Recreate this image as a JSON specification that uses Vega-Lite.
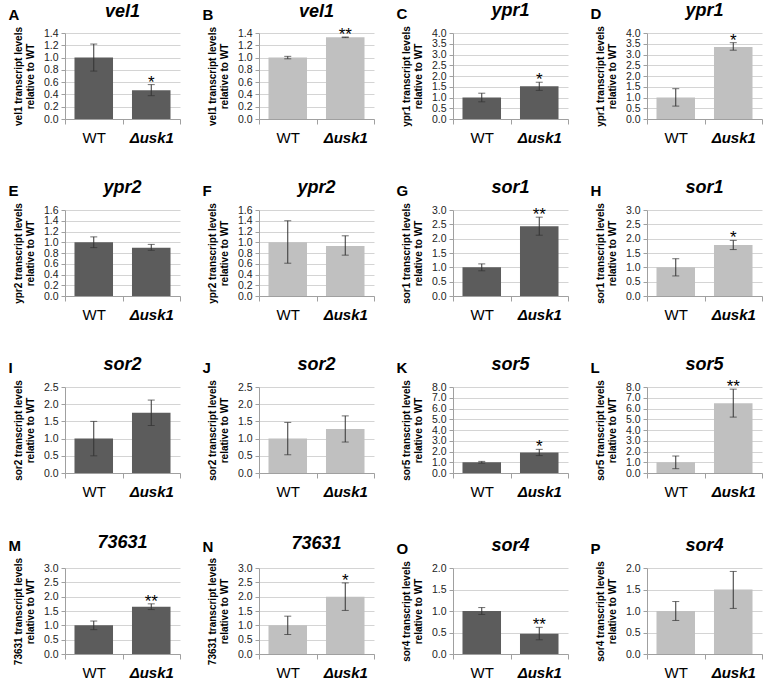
{
"$schema": "https://vega.github.io/schema/vega-lite/v6.json",
"padding": {"left": 8, "top": 2, "right": 4, "bottom": 0},
"background": "white",
"data": {"values": [
{"panel":"A","strain":"WT","value":1.00,"lo":0.78,"hi":1.22,"sig":""},
{"panel":"A","strain":"Δusk1","value":0.47,"lo":0.38,"hi":0.56,"sig":"*"},
{"panel":"B","strain":"WT","value":1.00,"lo":0.98,"hi":1.02,"sig":""},
{"panel":"B","strain":"Δusk1","value":1.33,"lo":1.325,"hi":1.335,"sig":"**"},
{"panel":"C","strain":"WT","value":1.00,"lo":0.80,"hi":1.20,"sig":""},
{"panel":"C","strain":"Δusk1","value":1.52,"lo":1.33,"hi":1.71,"sig":"*"},
{"panel":"D","strain":"WT","value":1.00,"lo":0.60,"hi":1.41,"sig":""},
{"panel":"D","strain":"Δusk1","value":3.35,"lo":3.20,"hi":3.55,"sig":"*"},
{"panel":"E","strain":"WT","value":1.00,"lo":0.90,"hi":1.10,"sig":""},
{"panel":"E","strain":"Δusk1","value":0.90,"lo":0.85,"hi":0.96,"sig":""},
{"panel":"F","strain":"WT","value":1.00,"lo":0.61,"hi":1.40,"sig":""},
{"panel":"F","strain":"Δusk1","value":0.93,"lo":0.76,"hi":1.12,"sig":""},
{"panel":"G","strain":"WT","value":1.00,"lo":0.88,"hi":1.12,"sig":""},
{"panel":"G","strain":"Δusk1","value":2.43,"lo":2.12,"hi":2.75,"sig":"**"},
{"panel":"H","strain":"WT","value":1.00,"lo":0.70,"hi":1.30,"sig":""},
{"panel":"H","strain":"Δusk1","value":1.78,"lo":1.62,"hi":1.94,"sig":"*"},
{"panel":"I","strain":"WT","value":1.00,"lo":0.50,"hi":1.50,"sig":""},
{"panel":"I","strain":"Δusk1","value":1.75,"lo":1.38,"hi":2.12,"sig":""},
{"panel":"J","strain":"WT","value":1.00,"lo":0.53,"hi":1.47,"sig":""},
{"panel":"J","strain":"Δusk1","value":1.28,"lo":0.90,"hi":1.66,"sig":""},
{"panel":"K","strain":"WT","value":1.00,"lo":0.92,"hi":1.08,"sig":""},
{"panel":"K","strain":"Δusk1","value":1.90,"lo":1.62,"hi":2.20,"sig":"*"},
{"panel":"L","strain":"WT","value":1.00,"lo":0.40,"hi":1.58,"sig":""},
{"panel":"L","strain":"Δusk1","value":6.50,"lo":5.20,"hi":7.80,"sig":"**"},
{"panel":"M","strain":"WT","value":1.00,"lo":0.85,"hi":1.15,"sig":""},
{"panel":"M","strain":"Δusk1","value":1.65,"lo":1.55,"hi":1.75,"sig":"**"},
{"panel":"N","strain":"WT","value":1.00,"lo":0.68,"hi":1.32,"sig":""},
{"panel":"N","strain":"Δusk1","value":2.00,"lo":1.52,"hi":2.48,"sig":"*"},
{"panel":"O","strain":"WT","value":1.00,"lo":0.92,"hi":1.08,"sig":""},
{"panel":"O","strain":"Δusk1","value":0.47,"lo":0.33,"hi":0.62,"sig":"**"},
{"panel":"P","strain":"WT","value":1.00,"lo":0.78,"hi":1.22,"sig":""},
{"panel":"P","strain":"Δusk1","value":1.50,"lo":1.06,"hi":1.92,"sig":""}
]},
"columns": 4,
"spacing": {"row": 34, "column": 21},
"concat": [
{"title":{"text":"A","anchor":"start","frame":"bounds","fontSize":15,"fontStyle":"normal","dx":-5,"dy":24},
 "vconcat":[{"title":"vel1","width":115,"height":86,
 "transform":[{"filter":"datum.panel==='A'"}],
 "encoding":{"x":{"field":"strain","type":"nominal","sort":["WT","Δusk1"],"scale":{"paddingInner":0,"paddingOuter":0},"title":null,"axis":{"labelFontStyle":{"condition":{"test":"datum.value==='Δusk1'","value":"italic"},"value":"normal"},"labelFontWeight":{"condition":{"test":"datum.value==='Δusk1'","value":"bold"},"value":"normal"}}}},
 "layer":[
 {"mark":{"type":"bar","color":"#5c5c5c","width":{"band":0.67}},"encoding":{"y":{"field":"value","type":"quantitative","scale":{"domain":[0,1.4],"nice":false},"axis":{"values":[0,0.2,0.4,0.6,0.8,1,1.2,1.4],"format":".1f"},"title":["vel1 transcript  levels","relative  to WT"]}}},
 {"mark":{"type":"errorbar","ticks":{"size":7},"color":"#333"},"encoding":{"y":{"field":"lo","type":"quantitative","scale":{"domain":[0,1.4],"nice":false},"axis":{"values":[0,0.2,0.4,0.6,0.8,1,1.2,1.4],"format":".1f"},"title":["vel1 transcript  levels","relative  to WT"]},"y2":{"field":"hi"}}},
 {"mark":{"type":"text","fontSize":17,"dy":3,"baseline":"alphabetic"},"encoding":{"y":{"field":"hi","type":"quantitative","scale":{"domain":[0,1.4],"nice":false},"axis":{"values":[0,0.2,0.4,0.6,0.8,1,1.2,1.4],"format":".1f"},"title":["vel1 transcript  levels","relative  to WT"]},"text":{"field":"sig"}}}
 ]}]},
{"title":{"text":"B","anchor":"start","frame":"bounds","fontSize":15,"fontStyle":"normal","dx":-5,"dy":24},
 "vconcat":[{"title":"vel1","width":115,"height":86,
 "transform":[{"filter":"datum.panel==='B'"}],
 "encoding":{"x":{"field":"strain","type":"nominal","sort":["WT","Δusk1"],"scale":{"paddingInner":0,"paddingOuter":0},"title":null,"axis":{"labelFontStyle":{"condition":{"test":"datum.value==='Δusk1'","value":"italic"},"value":"normal"},"labelFontWeight":{"condition":{"test":"datum.value==='Δusk1'","value":"bold"},"value":"normal"}}}},
 "layer":[
 {"mark":{"type":"bar","color":"#c0c0c0","width":{"band":0.67}},"encoding":{"y":{"field":"value","type":"quantitative","scale":{"domain":[0,1.4],"nice":false},"axis":{"values":[0,0.2,0.4,0.6,0.8,1,1.2,1.4],"format":".1f"},"title":["vel1 transcript  levels","relative  to WT"]}}},
 {"mark":{"type":"errorbar","ticks":{"size":7},"color":"#333"},"encoding":{"y":{"field":"lo","type":"quantitative","scale":{"domain":[0,1.4],"nice":false},"axis":{"values":[0,0.2,0.4,0.6,0.8,1,1.2,1.4],"format":".1f"},"title":["vel1 transcript  levels","relative  to WT"]},"y2":{"field":"hi"}}},
 {"mark":{"type":"text","fontSize":17,"dy":3,"baseline":"alphabetic"},"encoding":{"y":{"field":"hi","type":"quantitative","scale":{"domain":[0,1.4],"nice":false},"axis":{"values":[0,0.2,0.4,0.6,0.8,1,1.2,1.4],"format":".1f"},"title":["vel1 transcript  levels","relative  to WT"]},"text":{"field":"sig"}}}
 ]}]},
{"title":{"text":"C","anchor":"start","frame":"bounds","fontSize":15,"fontStyle":"normal","dx":-5,"dy":24},
 "vconcat":[{"title":"ypr1","width":115,"height":86,
 "transform":[{"filter":"datum.panel==='C'"}],
 "encoding":{"x":{"field":"strain","type":"nominal","sort":["WT","Δusk1"],"scale":{"paddingInner":0,"paddingOuter":0},"title":null,"axis":{"labelFontStyle":{"condition":{"test":"datum.value==='Δusk1'","value":"italic"},"value":"normal"},"labelFontWeight":{"condition":{"test":"datum.value==='Δusk1'","value":"bold"},"value":"normal"}}}},
 "layer":[
 {"mark":{"type":"bar","color":"#5c5c5c","width":{"band":0.67}},"encoding":{"y":{"field":"value","type":"quantitative","scale":{"domain":[0,4],"nice":false},"axis":{"values":[0,0.5,1,1.5,2,2.5,3,3.5,4],"format":".1f"},"title":["ypr1 transcript  levels","relative  to WT"]}}},
 {"mark":{"type":"errorbar","ticks":{"size":7},"color":"#333"},"encoding":{"y":{"field":"lo","type":"quantitative","scale":{"domain":[0,4],"nice":false},"axis":{"values":[0,0.5,1,1.5,2,2.5,3,3.5,4],"format":".1f"},"title":["ypr1 transcript  levels","relative  to WT"]},"y2":{"field":"hi"}}},
 {"mark":{"type":"text","fontSize":17,"dy":3,"baseline":"alphabetic"},"encoding":{"y":{"field":"hi","type":"quantitative","scale":{"domain":[0,4],"nice":false},"axis":{"values":[0,0.5,1,1.5,2,2.5,3,3.5,4],"format":".1f"},"title":["ypr1 transcript  levels","relative  to WT"]},"text":{"field":"sig"}}}
 ]}]},
{"title":{"text":"D","anchor":"start","frame":"bounds","fontSize":15,"fontStyle":"normal","dx":-5,"dy":24},
 "vconcat":[{"title":"ypr1","width":115,"height":86,
 "transform":[{"filter":"datum.panel==='D'"}],
 "encoding":{"x":{"field":"strain","type":"nominal","sort":["WT","Δusk1"],"scale":{"paddingInner":0,"paddingOuter":0},"title":null,"axis":{"labelFontStyle":{"condition":{"test":"datum.value==='Δusk1'","value":"italic"},"value":"normal"},"labelFontWeight":{"condition":{"test":"datum.value==='Δusk1'","value":"bold"},"value":"normal"}}}},
 "layer":[
 {"mark":{"type":"bar","color":"#c0c0c0","width":{"band":0.67}},"encoding":{"y":{"field":"value","type":"quantitative","scale":{"domain":[0,4],"nice":false},"axis":{"values":[0,0.5,1,1.5,2,2.5,3,3.5,4],"format":".1f"},"title":["ypr1 transcript  levels","relative  to WT"]}}},
 {"mark":{"type":"errorbar","ticks":{"size":7},"color":"#333"},"encoding":{"y":{"field":"lo","type":"quantitative","scale":{"domain":[0,4],"nice":false},"axis":{"values":[0,0.5,1,1.5,2,2.5,3,3.5,4],"format":".1f"},"title":["ypr1 transcript  levels","relative  to WT"]},"y2":{"field":"hi"}}},
 {"mark":{"type":"text","fontSize":17,"dy":3,"baseline":"alphabetic"},"encoding":{"y":{"field":"hi","type":"quantitative","scale":{"domain":[0,4],"nice":false},"axis":{"values":[0,0.5,1,1.5,2,2.5,3,3.5,4],"format":".1f"},"title":["ypr1 transcript  levels","relative  to WT"]},"text":{"field":"sig"}}}
 ]}]},
{"title":{"text":"E","anchor":"start","frame":"bounds","fontSize":15,"fontStyle":"normal","dx":-5,"dy":24},
 "vconcat":[{"title":"ypr2","width":115,"height":86,
 "transform":[{"filter":"datum.panel==='E'"}],
 "encoding":{"x":{"field":"strain","type":"nominal","sort":["WT","Δusk1"],"scale":{"paddingInner":0,"paddingOuter":0},"title":null,"axis":{"labelFontStyle":{"condition":{"test":"datum.value==='Δusk1'","value":"italic"},"value":"normal"},"labelFontWeight":{"condition":{"test":"datum.value==='Δusk1'","value":"bold"},"value":"normal"}}}},
 "layer":[
 {"mark":{"type":"bar","color":"#5c5c5c","width":{"band":0.67}},"encoding":{"y":{"field":"value","type":"quantitative","scale":{"domain":[0,1.6],"nice":false},"axis":{"values":[0,0.2,0.4,0.6,0.8,1,1.2,1.4,1.6],"format":".1f"},"title":["ypr2 transcript  levels","relative  to WT"]}}},
 {"mark":{"type":"errorbar","ticks":{"size":7},"color":"#333"},"encoding":{"y":{"field":"lo","type":"quantitative","scale":{"domain":[0,1.6],"nice":false},"axis":{"values":[0,0.2,0.4,0.6,0.8,1,1.2,1.4,1.6],"format":".1f"},"title":["ypr2 transcript  levels","relative  to WT"]},"y2":{"field":"hi"}}},
 {"mark":{"type":"text","fontSize":17,"dy":3,"baseline":"alphabetic"},"encoding":{"y":{"field":"hi","type":"quantitative","scale":{"domain":[0,1.6],"nice":false},"axis":{"values":[0,0.2,0.4,0.6,0.8,1,1.2,1.4,1.6],"format":".1f"},"title":["ypr2 transcript  levels","relative  to WT"]},"text":{"field":"sig"}}}
 ]}]},
{"title":{"text":"F","anchor":"start","frame":"bounds","fontSize":15,"fontStyle":"normal","dx":-5,"dy":24},
 "vconcat":[{"title":"ypr2","width":115,"height":86,
 "transform":[{"filter":"datum.panel==='F'"}],
 "encoding":{"x":{"field":"strain","type":"nominal","sort":["WT","Δusk1"],"scale":{"paddingInner":0,"paddingOuter":0},"title":null,"axis":{"labelFontStyle":{"condition":{"test":"datum.value==='Δusk1'","value":"italic"},"value":"normal"},"labelFontWeight":{"condition":{"test":"datum.value==='Δusk1'","value":"bold"},"value":"normal"}}}},
 "layer":[
 {"mark":{"type":"bar","color":"#c0c0c0","width":{"band":0.67}},"encoding":{"y":{"field":"value","type":"quantitative","scale":{"domain":[0,1.6],"nice":false},"axis":{"values":[0,0.2,0.4,0.6,0.8,1,1.2,1.4,1.6],"format":".1f"},"title":["ypr2 transcript  levels","relative  to WT"]}}},
 {"mark":{"type":"errorbar","ticks":{"size":7},"color":"#333"},"encoding":{"y":{"field":"lo","type":"quantitative","scale":{"domain":[0,1.6],"nice":false},"axis":{"values":[0,0.2,0.4,0.6,0.8,1,1.2,1.4,1.6],"format":".1f"},"title":["ypr2 transcript  levels","relative  to WT"]},"y2":{"field":"hi"}}},
 {"mark":{"type":"text","fontSize":17,"dy":3,"baseline":"alphabetic"},"encoding":{"y":{"field":"hi","type":"quantitative","scale":{"domain":[0,1.6],"nice":false},"axis":{"values":[0,0.2,0.4,0.6,0.8,1,1.2,1.4,1.6],"format":".1f"},"title":["ypr2 transcript  levels","relative  to WT"]},"text":{"field":"sig"}}}
 ]}]},
{"title":{"text":"G","anchor":"start","frame":"bounds","fontSize":15,"fontStyle":"normal","dx":-5,"dy":24},
 "vconcat":[{"title":"sor1","width":115,"height":86,
 "transform":[{"filter":"datum.panel==='G'"}],
 "encoding":{"x":{"field":"strain","type":"nominal","sort":["WT","Δusk1"],"scale":{"paddingInner":0,"paddingOuter":0},"title":null,"axis":{"labelFontStyle":{"condition":{"test":"datum.value==='Δusk1'","value":"italic"},"value":"normal"},"labelFontWeight":{"condition":{"test":"datum.value==='Δusk1'","value":"bold"},"value":"normal"}}}},
 "layer":[
 {"mark":{"type":"bar","color":"#5c5c5c","width":{"band":0.67}},"encoding":{"y":{"field":"value","type":"quantitative","scale":{"domain":[0,3],"nice":false},"axis":{"values":[0,0.5,1,1.5,2,2.5,3],"format":".1f"},"title":["sor1 transcript  levels","relative  to WT"]}}},
 {"mark":{"type":"errorbar","ticks":{"size":7},"color":"#333"},"encoding":{"y":{"field":"lo","type":"quantitative","scale":{"domain":[0,3],"nice":false},"axis":{"values":[0,0.5,1,1.5,2,2.5,3],"format":".1f"},"title":["sor1 transcript  levels","relative  to WT"]},"y2":{"field":"hi"}}},
 {"mark":{"type":"text","fontSize":17,"dy":3,"baseline":"alphabetic"},"encoding":{"y":{"field":"hi","type":"quantitative","scale":{"domain":[0,3],"nice":false},"axis":{"values":[0,0.5,1,1.5,2,2.5,3],"format":".1f"},"title":["sor1 transcript  levels","relative  to WT"]},"text":{"field":"sig"}}}
 ]}]},
{"title":{"text":"H","anchor":"start","frame":"bounds","fontSize":15,"fontStyle":"normal","dx":-5,"dy":24},
 "vconcat":[{"title":"sor1","width":115,"height":86,
 "transform":[{"filter":"datum.panel==='H'"}],
 "encoding":{"x":{"field":"strain","type":"nominal","sort":["WT","Δusk1"],"scale":{"paddingInner":0,"paddingOuter":0},"title":null,"axis":{"labelFontStyle":{"condition":{"test":"datum.value==='Δusk1'","value":"italic"},"value":"normal"},"labelFontWeight":{"condition":{"test":"datum.value==='Δusk1'","value":"bold"},"value":"normal"}}}},
 "layer":[
 {"mark":{"type":"bar","color":"#c0c0c0","width":{"band":0.67}},"encoding":{"y":{"field":"value","type":"quantitative","scale":{"domain":[0,3],"nice":false},"axis":{"values":[0,0.5,1,1.5,2,2.5,3],"format":".1f"},"title":["sor1 transcript  levels","relative  to WT"]}}},
 {"mark":{"type":"errorbar","ticks":{"size":7},"color":"#333"},"encoding":{"y":{"field":"lo","type":"quantitative","scale":{"domain":[0,3],"nice":false},"axis":{"values":[0,0.5,1,1.5,2,2.5,3],"format":".1f"},"title":["sor1 transcript  levels","relative  to WT"]},"y2":{"field":"hi"}}},
 {"mark":{"type":"text","fontSize":17,"dy":3,"baseline":"alphabetic"},"encoding":{"y":{"field":"hi","type":"quantitative","scale":{"domain":[0,3],"nice":false},"axis":{"values":[0,0.5,1,1.5,2,2.5,3],"format":".1f"},"title":["sor1 transcript  levels","relative  to WT"]},"text":{"field":"sig"}}}
 ]}]},
{"title":{"text":"I","anchor":"start","frame":"bounds","fontSize":15,"fontStyle":"normal","dx":-5,"dy":24},
 "vconcat":[{"title":"sor2","width":115,"height":86,
 "transform":[{"filter":"datum.panel==='I'"}],
 "encoding":{"x":{"field":"strain","type":"nominal","sort":["WT","Δusk1"],"scale":{"paddingInner":0,"paddingOuter":0},"title":null,"axis":{"labelFontStyle":{"condition":{"test":"datum.value==='Δusk1'","value":"italic"},"value":"normal"},"labelFontWeight":{"condition":{"test":"datum.value==='Δusk1'","value":"bold"},"value":"normal"}}}},
 "layer":[
 {"mark":{"type":"bar","color":"#5c5c5c","width":{"band":0.67}},"encoding":{"y":{"field":"value","type":"quantitative","scale":{"domain":[0,2.5],"nice":false},"axis":{"values":[0,0.5,1,1.5,2,2.5],"format":".1f"},"title":["sor2 transcript  levels","relative  to WT"]}}},
 {"mark":{"type":"errorbar","ticks":{"size":7},"color":"#333"},"encoding":{"y":{"field":"lo","type":"quantitative","scale":{"domain":[0,2.5],"nice":false},"axis":{"values":[0,0.5,1,1.5,2,2.5],"format":".1f"},"title":["sor2 transcript  levels","relative  to WT"]},"y2":{"field":"hi"}}},
 {"mark":{"type":"text","fontSize":17,"dy":3,"baseline":"alphabetic"},"encoding":{"y":{"field":"hi","type":"quantitative","scale":{"domain":[0,2.5],"nice":false},"axis":{"values":[0,0.5,1,1.5,2,2.5],"format":".1f"},"title":["sor2 transcript  levels","relative  to WT"]},"text":{"field":"sig"}}}
 ]}]},
{"title":{"text":"J","anchor":"start","frame":"bounds","fontSize":15,"fontStyle":"normal","dx":-5,"dy":24},
 "vconcat":[{"title":"sor2","width":115,"height":86,
 "transform":[{"filter":"datum.panel==='J'"}],
 "encoding":{"x":{"field":"strain","type":"nominal","sort":["WT","Δusk1"],"scale":{"paddingInner":0,"paddingOuter":0},"title":null,"axis":{"labelFontStyle":{"condition":{"test":"datum.value==='Δusk1'","value":"italic"},"value":"normal"},"labelFontWeight":{"condition":{"test":"datum.value==='Δusk1'","value":"bold"},"value":"normal"}}}},
 "layer":[
 {"mark":{"type":"bar","color":"#c0c0c0","width":{"band":0.67}},"encoding":{"y":{"field":"value","type":"quantitative","scale":{"domain":[0,2.5],"nice":false},"axis":{"values":[0,0.5,1,1.5,2,2.5],"format":".1f"},"title":["sor2 transcript  levels","relative  to WT"]}}},
 {"mark":{"type":"errorbar","ticks":{"size":7},"color":"#333"},"encoding":{"y":{"field":"lo","type":"quantitative","scale":{"domain":[0,2.5],"nice":false},"axis":{"values":[0,0.5,1,1.5,2,2.5],"format":".1f"},"title":["sor2 transcript  levels","relative  to WT"]},"y2":{"field":"hi"}}},
 {"mark":{"type":"text","fontSize":17,"dy":3,"baseline":"alphabetic"},"encoding":{"y":{"field":"hi","type":"quantitative","scale":{"domain":[0,2.5],"nice":false},"axis":{"values":[0,0.5,1,1.5,2,2.5],"format":".1f"},"title":["sor2 transcript  levels","relative  to WT"]},"text":{"field":"sig"}}}
 ]}]},
{"title":{"text":"K","anchor":"start","frame":"bounds","fontSize":15,"fontStyle":"normal","dx":-5,"dy":24},
 "vconcat":[{"title":"sor5","width":115,"height":86,
 "transform":[{"filter":"datum.panel==='K'"}],
 "encoding":{"x":{"field":"strain","type":"nominal","sort":["WT","Δusk1"],"scale":{"paddingInner":0,"paddingOuter":0},"title":null,"axis":{"labelFontStyle":{"condition":{"test":"datum.value==='Δusk1'","value":"italic"},"value":"normal"},"labelFontWeight":{"condition":{"test":"datum.value==='Δusk1'","value":"bold"},"value":"normal"}}}},
 "layer":[
 {"mark":{"type":"bar","color":"#5c5c5c","width":{"band":0.67}},"encoding":{"y":{"field":"value","type":"quantitative","scale":{"domain":[0,8],"nice":false},"axis":{"values":[0,1,2,3,4,5,6,7,8],"format":".1f"},"title":["sor5 transcript  levels","relative  to WT"]}}},
 {"mark":{"type":"errorbar","ticks":{"size":7},"color":"#333"},"encoding":{"y":{"field":"lo","type":"quantitative","scale":{"domain":[0,8],"nice":false},"axis":{"values":[0,1,2,3,4,5,6,7,8],"format":".1f"},"title":["sor5 transcript  levels","relative  to WT"]},"y2":{"field":"hi"}}},
 {"mark":{"type":"text","fontSize":17,"dy":3,"baseline":"alphabetic"},"encoding":{"y":{"field":"hi","type":"quantitative","scale":{"domain":[0,8],"nice":false},"axis":{"values":[0,1,2,3,4,5,6,7,8],"format":".1f"},"title":["sor5 transcript  levels","relative  to WT"]},"text":{"field":"sig"}}}
 ]}]},
{"title":{"text":"L","anchor":"start","frame":"bounds","fontSize":15,"fontStyle":"normal","dx":-5,"dy":24},
 "vconcat":[{"title":"sor5","width":115,"height":86,
 "transform":[{"filter":"datum.panel==='L'"}],
 "encoding":{"x":{"field":"strain","type":"nominal","sort":["WT","Δusk1"],"scale":{"paddingInner":0,"paddingOuter":0},"title":null,"axis":{"labelFontStyle":{"condition":{"test":"datum.value==='Δusk1'","value":"italic"},"value":"normal"},"labelFontWeight":{"condition":{"test":"datum.value==='Δusk1'","value":"bold"},"value":"normal"}}}},
 "layer":[
 {"mark":{"type":"bar","color":"#c0c0c0","width":{"band":0.67}},"encoding":{"y":{"field":"value","type":"quantitative","scale":{"domain":[0,8],"nice":false},"axis":{"values":[0,1,2,3,4,5,6,7,8],"format":".1f"},"title":["sor5 transcript  levels","relative  to WT"]}}},
 {"mark":{"type":"errorbar","ticks":{"size":7},"color":"#333"},"encoding":{"y":{"field":"lo","type":"quantitative","scale":{"domain":[0,8],"nice":false},"axis":{"values":[0,1,2,3,4,5,6,7,8],"format":".1f"},"title":["sor5 transcript  levels","relative  to WT"]},"y2":{"field":"hi"}}},
 {"mark":{"type":"text","fontSize":17,"dy":3,"baseline":"alphabetic"},"encoding":{"y":{"field":"hi","type":"quantitative","scale":{"domain":[0,8],"nice":false},"axis":{"values":[0,1,2,3,4,5,6,7,8],"format":".1f"},"title":["sor5 transcript  levels","relative  to WT"]},"text":{"field":"sig"}}}
 ]}]},
{"title":{"text":"M","anchor":"start","frame":"bounds","fontSize":15,"fontStyle":"normal","dx":-5,"dy":24},
 "vconcat":[{"title":"73631","width":115,"height":86,
 "transform":[{"filter":"datum.panel==='M'"}],
 "encoding":{"x":{"field":"strain","type":"nominal","sort":["WT","Δusk1"],"scale":{"paddingInner":0,"paddingOuter":0},"title":null,"axis":{"labelFontStyle":{"condition":{"test":"datum.value==='Δusk1'","value":"italic"},"value":"normal"},"labelFontWeight":{"condition":{"test":"datum.value==='Δusk1'","value":"bold"},"value":"normal"}}}},
 "layer":[
 {"mark":{"type":"bar","color":"#5c5c5c","width":{"band":0.67}},"encoding":{"y":{"field":"value","type":"quantitative","scale":{"domain":[0,3],"nice":false},"axis":{"values":[0,0.5,1,1.5,2,2.5,3],"format":".1f"},"title":["73631 transcript  levels","relative  to WT"]}}},
 {"mark":{"type":"errorbar","ticks":{"size":7},"color":"#333"},"encoding":{"y":{"field":"lo","type":"quantitative","scale":{"domain":[0,3],"nice":false},"axis":{"values":[0,0.5,1,1.5,2,2.5,3],"format":".1f"},"title":["73631 transcript  levels","relative  to WT"]},"y2":{"field":"hi"}}},
 {"mark":{"type":"text","fontSize":17,"dy":3,"baseline":"alphabetic"},"encoding":{"y":{"field":"hi","type":"quantitative","scale":{"domain":[0,3],"nice":false},"axis":{"values":[0,0.5,1,1.5,2,2.5,3],"format":".1f"},"title":["73631 transcript  levels","relative  to WT"]},"text":{"field":"sig"}}}
 ]}]},
{"title":{"text":"N","anchor":"start","frame":"bounds","fontSize":15,"fontStyle":"normal","dx":-5,"dy":24},
 "vconcat":[{"title":"73631","width":115,"height":86,
 "transform":[{"filter":"datum.panel==='N'"}],
 "encoding":{"x":{"field":"strain","type":"nominal","sort":["WT","Δusk1"],"scale":{"paddingInner":0,"paddingOuter":0},"title":null,"axis":{"labelFontStyle":{"condition":{"test":"datum.value==='Δusk1'","value":"italic"},"value":"normal"},"labelFontWeight":{"condition":{"test":"datum.value==='Δusk1'","value":"bold"},"value":"normal"}}}},
 "layer":[
 {"mark":{"type":"bar","color":"#c0c0c0","width":{"band":0.67}},"encoding":{"y":{"field":"value","type":"quantitative","scale":{"domain":[0,3],"nice":false},"axis":{"values":[0,0.5,1,1.5,2,2.5,3],"format":".1f"},"title":["73631 transcript levels","relative  to WT"]}}},
 {"mark":{"type":"errorbar","ticks":{"size":7},"color":"#333"},"encoding":{"y":{"field":"lo","type":"quantitative","scale":{"domain":[0,3],"nice":false},"axis":{"values":[0,0.5,1,1.5,2,2.5,3],"format":".1f"},"title":["73631 transcript levels","relative  to WT"]},"y2":{"field":"hi"}}},
 {"mark":{"type":"text","fontSize":17,"dy":3,"baseline":"alphabetic"},"encoding":{"y":{"field":"hi","type":"quantitative","scale":{"domain":[0,3],"nice":false},"axis":{"values":[0,0.5,1,1.5,2,2.5,3],"format":".1f"},"title":["73631 transcript levels","relative  to WT"]},"text":{"field":"sig"}}}
 ]}]},
{"title":{"text":"O","anchor":"start","frame":"bounds","fontSize":15,"fontStyle":"normal","dx":-5,"dy":24},
 "vconcat":[{"title":"sor4","width":115,"height":86,
 "transform":[{"filter":"datum.panel==='O'"}],
 "encoding":{"x":{"field":"strain","type":"nominal","sort":["WT","Δusk1"],"scale":{"paddingInner":0,"paddingOuter":0},"title":null,"axis":{"labelFontStyle":{"condition":{"test":"datum.value==='Δusk1'","value":"italic"},"value":"normal"},"labelFontWeight":{"condition":{"test":"datum.value==='Δusk1'","value":"bold"},"value":"normal"}}}},
 "layer":[
 {"mark":{"type":"bar","color":"#5c5c5c","width":{"band":0.67}},"encoding":{"y":{"field":"value","type":"quantitative","scale":{"domain":[0,2],"nice":false},"axis":{"values":[0,0.5,1,1.5,2],"format":".1f"},"title":["sor4 transcript  levels","relative  to WT"]}}},
 {"mark":{"type":"errorbar","ticks":{"size":7},"color":"#333"},"encoding":{"y":{"field":"lo","type":"quantitative","scale":{"domain":[0,2],"nice":false},"axis":{"values":[0,0.5,1,1.5,2],"format":".1f"},"title":["sor4 transcript  levels","relative  to WT"]},"y2":{"field":"hi"}}},
 {"mark":{"type":"text","fontSize":17,"dy":3,"baseline":"alphabetic"},"encoding":{"y":{"field":"hi","type":"quantitative","scale":{"domain":[0,2],"nice":false},"axis":{"values":[0,0.5,1,1.5,2],"format":".1f"},"title":["sor4 transcript  levels","relative  to WT"]},"text":{"field":"sig"}}}
 ]}]},
{"title":{"text":"P","anchor":"start","frame":"bounds","fontSize":15,"fontStyle":"normal","dx":-5,"dy":24},
 "vconcat":[{"title":"sor4","width":115,"height":86,
 "transform":[{"filter":"datum.panel==='P'"}],
 "encoding":{"x":{"field":"strain","type":"nominal","sort":["WT","Δusk1"],"scale":{"paddingInner":0,"paddingOuter":0},"title":null,"axis":{"labelFontStyle":{"condition":{"test":"datum.value==='Δusk1'","value":"italic"},"value":"normal"},"labelFontWeight":{"condition":{"test":"datum.value==='Δusk1'","value":"bold"},"value":"normal"}}}},
 "layer":[
 {"mark":{"type":"bar","color":"#c0c0c0","width":{"band":0.67}},"encoding":{"y":{"field":"value","type":"quantitative","scale":{"domain":[0,2],"nice":false},"axis":{"values":[0,0.5,1,1.5,2],"format":".1f"},"title":["sor4 transcript  levels","relative  to WT"]}}},
 {"mark":{"type":"errorbar","ticks":{"size":7},"color":"#333"},"encoding":{"y":{"field":"lo","type":"quantitative","scale":{"domain":[0,2],"nice":false},"axis":{"values":[0,0.5,1,1.5,2],"format":".1f"},"title":["sor4 transcript  levels","relative  to WT"]},"y2":{"field":"hi"}}},
 {"mark":{"type":"text","fontSize":17,"dy":3,"baseline":"alphabetic"},"encoding":{"y":{"field":"hi","type":"quantitative","scale":{"domain":[0,2],"nice":false},"axis":{"values":[0,0.5,1,1.5,2],"format":".1f"},"title":["sor4 transcript  levels","relative  to WT"]},"text":{"field":"sig"}}}
 ]}]}
],
"config": {
 "font": "Liberation Sans",
 "view": {"stroke": null},
 "axis": {"labelFont": "Liberation Sans", "titleFont": "Liberation Sans", "labelColor": "#222", "domainColor": "#a0a0a0", "tickColor": "#a0a0a0", "gridColor": "#d4d4d4"},
 "axisY": {"labelFontSize": 10.5, "labelOverlap": false, "titleFontSize": 10, "titleFontWeight": "bold", "titleColor": "#000", "grid": true, "tickSize": 4, "labelPadding": 3, "titlePadding": 8, "titleLineHeight": 12},
 "axisX": {"labelFontSize": 15, "labelColor": "#000", "labelAngle": 0, "grid": false, "tickBand": "extent", "tickSize": 5, "labelPadding": 6},
 "title": {"font": "Liberation Sans", "fontSize": 18, "fontStyle": "italic", "fontWeight": "bold", "color": "#000", "offset": 4}
}
}
